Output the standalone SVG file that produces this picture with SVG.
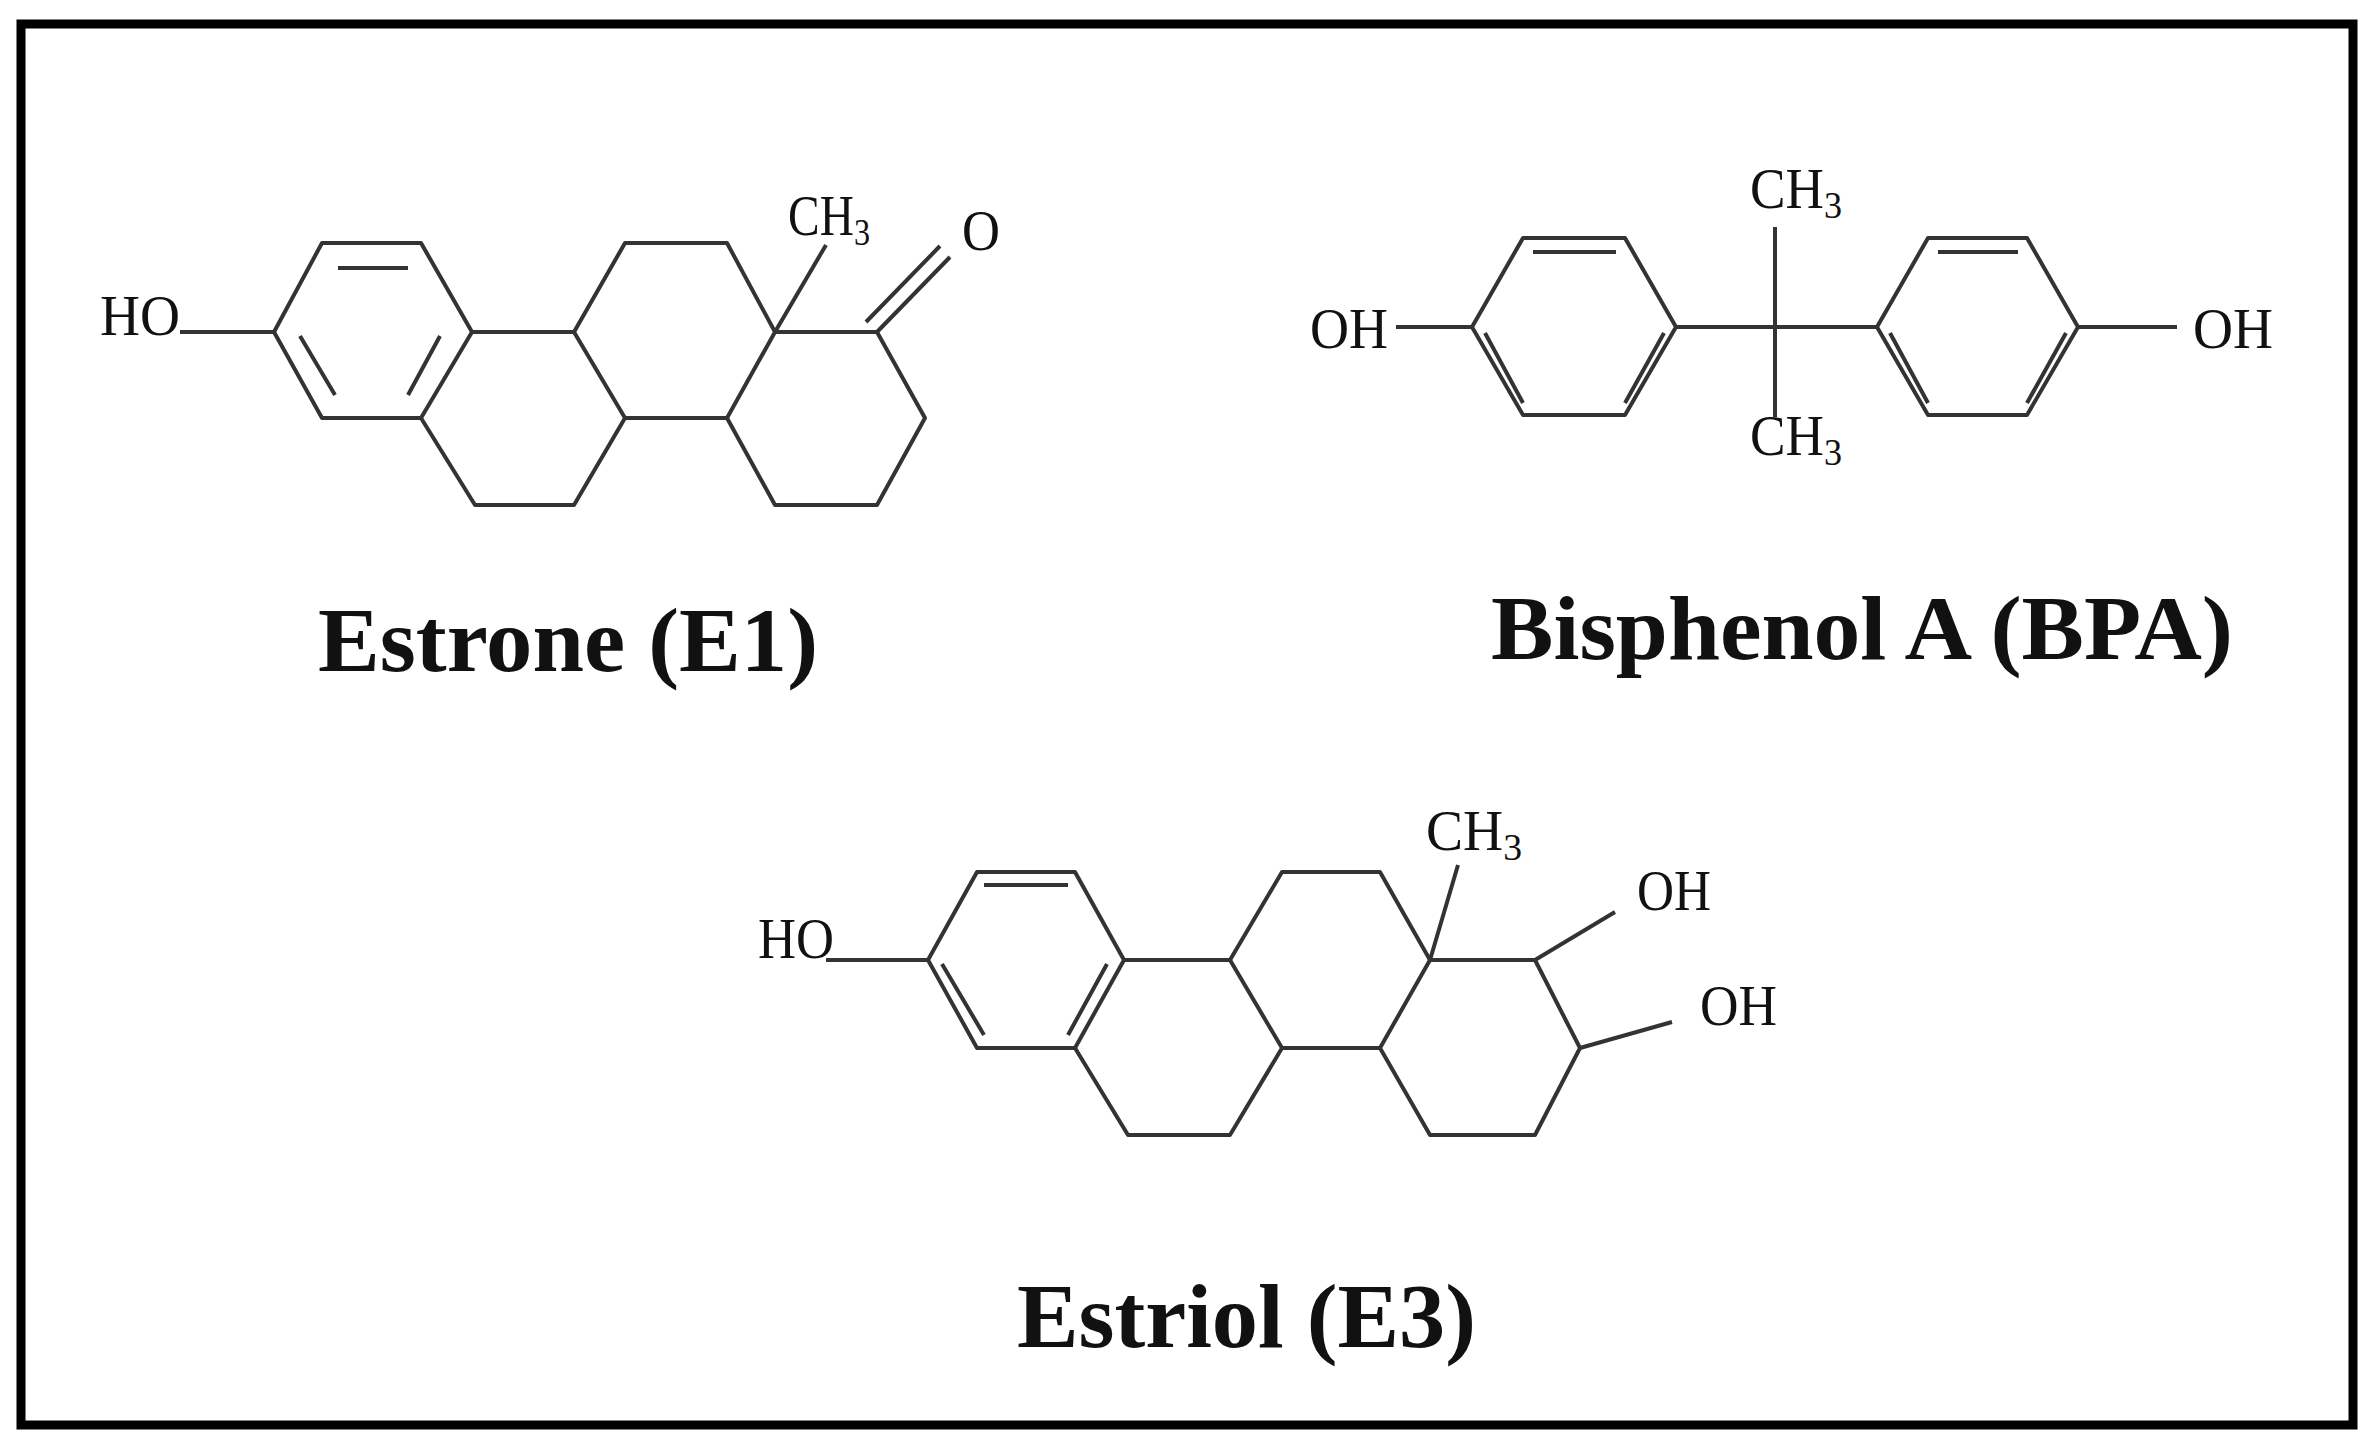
<svg xmlns="http://www.w3.org/2000/svg" width="2374" height="1448" viewBox="0 0 2374 1448">
<style>
.b{stroke:#333;stroke-width:4;fill:none;stroke-linejoin:round}
.t{font-family:"Liberation Serif",serif;font-size:56px;fill:#111}
.L{font-family:"Liberation Serif",serif;font-weight:bold;font-size:92px;fill:#111}
sub{}
</style>
<rect x="0" y="0" width="2374" height="1448" fill="#fff"/>
<rect x="21" y="24" width="2332" height="1401" fill="none" stroke="#000" stroke-width="9"/>
<g id="estrone">
<g class="b">
<path d="M274,332 L322,243 L421,243 L472,332 L421,418 L322,418 Z"/>
<path d="M338,268 L408,268 M300,336 L335,395 M440,336 L408,395"/>
<path d="M472,332 L574,332 L625,418 L574,505 L475,505 L421,418"/>
<path d="M574,332 L625,243 L727,243 L775,332 L727,418 L625,418"/>
<path d="M775,332 L877,332 L925,418 L877,505 L775,505 L727,418"/>
<path d="M775,332 L826,245"/>
<path d="M877,332 L950,257 M866,322 L940,246"/>
<path d="M180,332 L274,332"/>
</g>
<text class="t" x="100" y="335" textLength="80" lengthAdjust="spacingAndGlyphs">HO</text>
<text class="t" x="788" y="235" textLength="82" lengthAdjust="spacingAndGlyphs">CH<tspan font-size="38" dy="10">3</tspan></text>
<text class="t" x="962" y="250" textLength="38" lengthAdjust="spacingAndGlyphs">O</text>
<text class="L" x="318" y="671" textLength="500" lengthAdjust="spacingAndGlyphs">Estrone (E1)</text>
</g>
<g id="bpa">
<g class="b">
<path d="M1472,327 L1523,238 L1625,238 L1676,327 L1625,415 L1523,415 Z"/>
<path d="M1533,252 L1616,252 M1485,333 L1523,403 M1664,333 L1625,403"/>
<path d="M1877,327 L1928,238 L2027,238 L2078,327 L2027,415 L1928,415 Z"/>
<path d="M1938,252 L2018,252 M1890,333 L1928,403 M2066,333 L2027,403"/>
<path d="M1396,327 L1472,327 M1676,327 L1877,327 M2078,327 L2177,327 M1775,227 L1775,417"/>
</g>
<text class="t" x="1310" y="348" textLength="78" lengthAdjust="spacingAndGlyphs">OH</text>
<text class="t" x="2193" y="348" textLength="80" lengthAdjust="spacingAndGlyphs">OH</text>
<text class="t" x="1750" y="208" textLength="92" lengthAdjust="spacingAndGlyphs">CH<tspan font-size="38" dy="10">3</tspan></text>
<text class="t" x="1750" y="455" textLength="92" lengthAdjust="spacingAndGlyphs">CH<tspan font-size="38" dy="10">3</tspan></text>
<text class="L" x="1491" y="659" textLength="742" lengthAdjust="spacingAndGlyphs">Bisphenol A (BPA)</text>
</g>
<g id="estriol">
<g class="b">
<path d="M928,960 L977,872 L1075,872 L1124,960 L1075,1048 L977,1048 Z"/>
<path d="M984,885 L1068,885 M942,964 L984,1035 M1107,964 L1068,1035"/>
<path d="M1124,960 L1230,960 L1282,1048 L1230,1135 L1128,1135 L1075,1048"/>
<path d="M1230,960 L1282,872 L1380,872 L1430,960 L1380,1048 L1282,1048"/>
<path d="M1430,960 L1535,960 L1580,1048 L1535,1135 L1430,1135 L1380,1048"/>
<path d="M1430,960 L1458,865 M1535,960 L1615,912 M1580,1048 L1672,1022 M826,960 L928,960"/>
</g>
<text class="t" x="758" y="958" textLength="76" lengthAdjust="spacingAndGlyphs">HO</text>
<text class="t" x="1426" y="850" textLength="96" lengthAdjust="spacingAndGlyphs">CH<tspan font-size="38" dy="10">3</tspan></text>
<text class="t" x="1637" y="910" textLength="74" lengthAdjust="spacingAndGlyphs">OH</text>
<text class="t" x="1700" y="1025" textLength="77" lengthAdjust="spacingAndGlyphs">OH</text>
<text class="L" x="1017" y="1347" textLength="459" lengthAdjust="spacingAndGlyphs">Estriol (E3)</text>
</g>
</svg>
